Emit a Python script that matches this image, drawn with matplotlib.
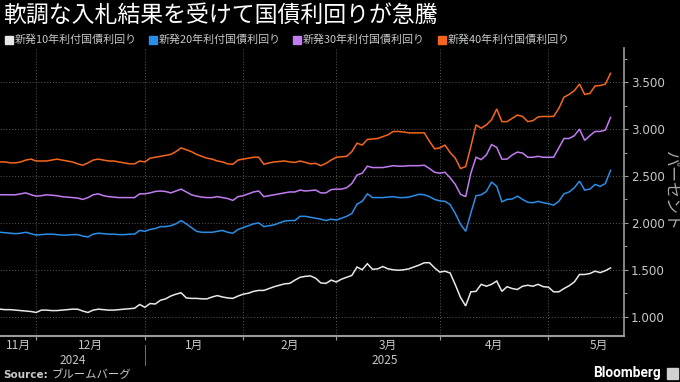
import numpy as np
import matplotlib
matplotlib.use("Agg")
from matplotlib import pyplot as plt
from matplotlib.ticker import FixedLocator, FixedFormatter

plt.rcParams['font.family'] = ['Noto Sans CJK JP', 'DejaVu Sans']

# yields (%), one value per trading day, 2024-11-21 .. 2025-05-21
jgb10 = [1.08, 1.075, 1.075, 1.07, 1.065, 1.06, 1.055, 1.045, 1.07, 1.07,
         1.065, 1.065, 1.07, 1.075, 1.08, 1.08, 1.06, 1.045, 1.07, 1.08,
         1.075, 1.07, 1.07, 1.075, 1.08, 1.085, 1.09, 1.13, 1.10, 1.14,
         1.135, 1.175, 1.19, 1.22, 1.24, 1.255, 1.20, 1.195, 1.195, 1.19,
         1.19, 1.21, 1.225, 1.21, 1.20, 1.195, 1.22, 1.24, 1.25, 1.27,
         1.28, 1.28, 1.30, 1.32, 1.335, 1.35, 1.355, 1.39, 1.42, 1.43,
         1.435, 1.41, 1.36, 1.355, 1.39, 1.37, 1.40, 1.42, 1.44, 1.53,
         1.50, 1.565, 1.505, 1.51, 1.535, 1.51, 1.50, 1.495, 1.50, 1.51,
         1.53, 1.55, 1.575, 1.575, 1.52, 1.475, 1.485, 1.465, 1.34, 1.205,
         1.115, 1.265, 1.27, 1.345, 1.325, 1.345, 1.38, 1.27, 1.32, 1.30,
         1.29, 1.325, 1.335, 1.325, 1.345, 1.32, 1.315, 1.265, 1.265, 1.30,
         1.33, 1.37, 1.45, 1.45, 1.46, 1.485, 1.47, 1.49, 1.52]

jgb20 = [1.90, 1.895, 1.89, 1.885, 1.89, 1.90, 1.885, 1.87, 1.875, 1.88,
         1.88, 1.875, 1.87, 1.87, 1.875, 1.875, 1.86, 1.85, 1.88, 1.89,
         1.885, 1.88, 1.88, 1.875, 1.875, 1.88, 1.88, 1.92, 1.91, 1.93,
         1.94, 1.96, 1.96, 1.97, 1.99, 2.025, 1.99, 1.95, 1.91, 1.90,
         1.90, 1.90, 1.91, 1.92, 1.90, 1.89, 1.93, 1.95, 1.97, 1.99,
         2.00, 1.96, 1.97, 1.98, 2.00, 2.02, 2.025, 2.025, 2.07, 2.07,
         2.06, 2.05, 2.04, 2.025, 2.04, 2.03, 2.05, 2.07, 2.10, 2.20,
         2.23, 2.31, 2.27, 2.27, 2.27, 2.275, 2.28, 2.27, 2.27, 2.275,
         2.29, 2.305, 2.30, 2.28, 2.25, 2.235, 2.23, 2.195, 2.10, 1.985,
         1.91, 2.105, 2.29, 2.30, 2.335, 2.435, 2.39, 2.225, 2.25, 2.255,
         2.285, 2.25, 2.22, 2.215, 2.23, 2.215, 2.205, 2.19, 2.23, 2.31,
         2.33, 2.375, 2.445, 2.35, 2.36, 2.41, 2.39, 2.42, 2.56]

jgb30 = [2.30, 2.30, 2.30, 2.30, 2.31, 2.32, 2.30, 2.285, 2.29, 2.30,
         2.295, 2.29, 2.28, 2.275, 2.27, 2.265, 2.25, 2.27, 2.30, 2.31,
         2.29, 2.28, 2.275, 2.27, 2.27, 2.27, 2.27, 2.31, 2.31, 2.32,
         2.335, 2.34, 2.335, 2.32, 2.34, 2.36, 2.33, 2.30, 2.285, 2.275,
         2.27, 2.27, 2.28, 2.27, 2.26, 2.24, 2.28, 2.29, 2.31, 2.33,
         2.34, 2.28, 2.29, 2.30, 2.31, 2.32, 2.33, 2.33, 2.35, 2.34,
         2.345, 2.35, 2.32, 2.32, 2.355, 2.36, 2.36, 2.375, 2.42, 2.51,
         2.53, 2.605, 2.59, 2.59, 2.59, 2.60, 2.61, 2.605, 2.605, 2.61,
         2.61, 2.61, 2.615, 2.58, 2.54, 2.53, 2.54, 2.48, 2.41, 2.305,
         2.28, 2.53, 2.70, 2.675, 2.725, 2.835, 2.805, 2.68, 2.68, 2.725,
         2.755, 2.745, 2.70, 2.70, 2.71, 2.70, 2.70, 2.70, 2.80, 2.90,
         2.90, 2.93, 3.00, 2.88, 2.93, 2.975, 2.975, 2.99, 3.125]

jgb40 = [2.65, 2.65, 2.64, 2.64, 2.65, 2.67, 2.68, 2.66, 2.66, 2.66,
         2.67, 2.68, 2.67, 2.66, 2.65, 2.63, 2.615, 2.64, 2.67, 2.68,
         2.67, 2.66, 2.66, 2.65, 2.64, 2.63, 2.63, 2.66, 2.65, 2.69,
         2.70, 2.71, 2.72, 2.73, 2.76, 2.80, 2.78, 2.76, 2.73, 2.71,
         2.69, 2.68, 2.66, 2.65, 2.63, 2.625, 2.67, 2.68, 2.69, 2.70,
         2.70, 2.625, 2.64, 2.65, 2.655, 2.66, 2.65, 2.645, 2.66, 2.645,
         2.63, 2.635, 2.61, 2.635, 2.67, 2.70, 2.705, 2.71, 2.76, 2.85,
         2.83, 2.89, 2.895, 2.90, 2.92, 2.94, 2.975, 2.975, 2.97, 2.96,
         2.96, 2.96, 2.96, 2.87, 2.79, 2.80, 2.83, 2.75, 2.69, 2.58,
         2.60, 2.815, 3.045, 3.01, 3.045, 3.10, 3.215, 3.08, 3.08, 3.115,
         3.15, 3.135, 3.08, 3.09, 3.13, 3.135, 3.135, 3.135, 3.22, 3.34,
         3.37, 3.41, 3.48, 3.37, 3.38, 3.46, 3.465, 3.48, 3.595]

series_names = ["新発10年利付国債利回り", "新発20年利付国債利回り",
                "新発30年利付国債利回り", "新発40年利付国債利回り"]
series_colors = ["#e8e8e8", "#2b8ee6", "#c07cf0", "#f5661c"]

# trading-day index where each month starts (Nov 2024 .. Jun 2025)
month_starts = [-12, 7, 28, 47, 65, 85, 106, 126]
month_labels = ["11月", "12月", "1月", "2月", "3月", "4月", "5月"]
year_labels = ["2024", "2025"]
year_break = 28
y_ticks = [1.0, 1.5, 2.0, 2.5, 3.0, 3.5]

BG = "black"
GRID = "#5a5a5a"
AXC = "#9a9a9a"
TXT = "#c8c8c8"

fig = plt.figure(figsize=(6.8, 3.82), dpi=100, facecolor=BG)
ax = fig.add_axes([0.0, 46 / 382, 624 / 680, 288 / 382], facecolor=BG)

xmax = 120.6
x = np.arange(len(jgb10))
for vals, col in zip([jgb10, jgb20, jgb30, jgb40], series_colors):
    ax.plot(x, vals, color=col, lw=1.1, solid_joinstyle="miter")

ax.set_xlim(0, xmax)
ax.set_ylim(0.794, 3.865)

# y axis on the right
ax.yaxis.tick_right()
ax.set_yticks(y_ticks)
ax.set_yticklabels([f"{v:.3f}" for v in y_ticks], family="DejaVu Sans")
ax.yaxis.set_minor_locator(FixedLocator([v + 0.25 for v in y_ticks]))
ax.tick_params(axis="y", which="major", colors=AXC, labelcolor=TXT,
               length=3, width=0.8, pad=2, labelsize=8.6)
ax.tick_params(axis="y", which="minor", colors=AXC, length=2, width=0.8)

# x axis: boundaries as major ticks, month names at mid-month
inner = month_starts[1:-1]
ax.set_xticks(inner)
ax.set_xticklabels([""] * len(inner))
mids = [(max(a, 0) + min(b, xmax + 5)) / 2
        for a, b in zip(month_starts[:-1], month_starts[1:])]
ax.xaxis.set_minor_locator(FixedLocator(mids))
ax.xaxis.set_minor_formatter(FixedFormatter(month_labels))
ax.tick_params(axis="x", which="major", colors=AXC, length=3, width=0.8)
ax.tick_params(axis="x", which="minor", length=0, labelcolor=TXT,
               labelsize=8.5, pad=2)

ax.grid(True, which="major", color=GRID, linestyle=(0, (1, 2)), lw=0.7)

for side in ["top", "left"]:
    ax.spines[side].set_visible(False)
ax.spines["bottom"].set_color(AXC)
ax.spines["bottom"].set_linewidth(1.5)
ax.spines["right"].set_color(AXC)
ax.spines["right"].set_linewidth(1.2)

fig.text(671 / 680, 1 - 191 / 382, "パーセント", rotation=-90,
         ha="center", va="center", color="#a8a8a8", fontsize=11.5)

# year labels and separator
ytr = matplotlib.transforms.blended_transform_factory(ax.transData, fig.transFigure)
ax.text(year_break / 2, 22 / 382, year_labels[0], transform=ytr,
        ha="center", va="center", color=TXT, fontsize=8.5)
ax.text((year_break + xmax) / 2, 22 / 382, year_labels[1], transform=ytr,
        ha="center", va="center", color=TXT, fontsize=8.5)
ax.plot([year_break, year_break], [17 / 382, 37 / 382], transform=ytr,
        color="#707070", lw=0.7, clip_on=False)

# title and legend
fig.text(3 / 680, 1 - 15 / 382, "軟調な入札結果を受けて国債利回りが急騰",
         color="white", fontsize=16.5, va="center", ha="left")
leg_x = [5, 149, 293, 438]
for lx, name, col in zip(leg_x, series_names, series_colors):
    fig.patches.append(plt.Rectangle((lx / 680, 1 - 44 / 382), 8 / 680, 8 / 382,
                                     transform=fig.transFigure, color=col))
    fig.text((lx + 10) / 680, 1 - 40 / 382, name, color=TXT, fontsize=7.9,
             va="center", ha="left")

# footer
fig.text(3 / 680, 1 - 375 / 382, "Source:", color=TXT, fontsize=7.5,
         fontweight="bold", va="center", ha="left", family="DejaVu Sans")
fig.text(52 / 680, 1 - 375 / 382, "ブルームバーグ", color=TXT, fontsize=8.2,
         va="center", ha="left")
fig.text(661 / 680, 1 - 373 / 382, "Bloomberg", color="white", fontsize=9.8,
         fontweight="bold", va="center", ha="right", family="Roboto")
fig.patches.append(plt.Rectangle((667 / 680, 1 - 379 / 382), 11 / 680, 11 / 382,
                                 transform=fig.transFigure, color="#d0d0d0"))

fig.savefig("out.png", dpi=100, facecolor=BG)
